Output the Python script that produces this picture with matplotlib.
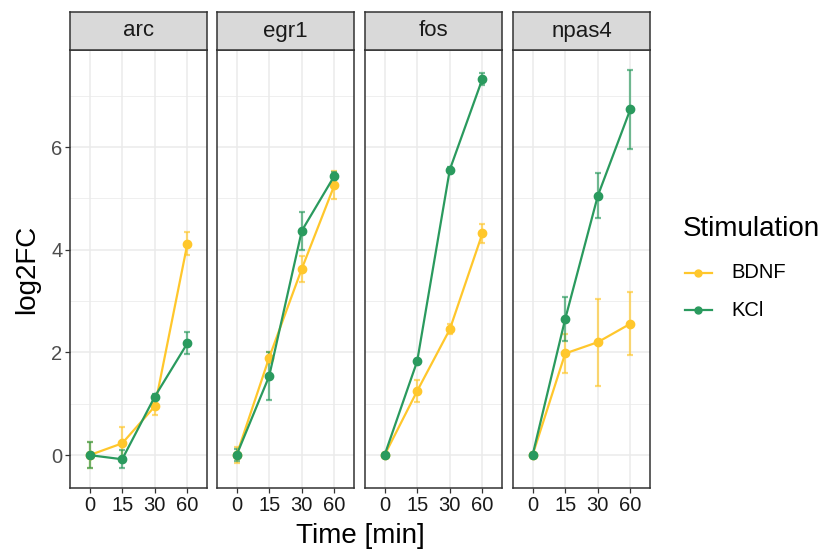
import matplotlib
matplotlib.use("Agg")
import matplotlib.pyplot as plt
from matplotlib.lines import Line2D
import numpy as np

plt.rcParams['font.family'] = ['Liberation Sans', 'DejaVu Sans']

genes = ["arc", "egr1", "fos", "npas4"]
time_labels = ["0", "15", "30", "60"]
stimulations = ["BDNF", "KCl"]
colors = {"BDNF": "#FFC72C", "KCl": "#2A9A5E"}

bdnf_mean = {
    "arc":   [0.0, 0.23, 0.95, 4.12],
    "egr1":  [0.0, 1.90, 3.63, 5.26],
    "fos":   [0.0, 1.25, 2.45, 4.32],
    "npas4": [0.0, 1.98, 2.20, 2.56],
}
bdnf_err = {
    "arc":   [0.26, 0.32, 0.17, 0.23],
    "egr1":  [0.15, 0.10, 0.25, 0.27],
    "fos":   [0.03, 0.21, 0.10, 0.18],
    "npas4": [0.05, 0.38, 0.85, 0.61],
}
kcl_mean = {
    "arc":   [0.0, -0.08, 1.14, 2.18],
    "egr1":  [0.0, 1.54, 4.37, 5.44],
    "fos":   [0.0, 1.83, 5.56, 7.33],
    "npas4": [0.0, 2.65, 5.05, 6.74],
}
kcl_err = {
    "arc":   [0.26, 0.18, 0.05, 0.22],
    "egr1":  [0.12, 0.47, 0.37, 0.08],
    "fos":   [0.03, 0.05, 0.05, 0.12],
    "npas4": [0.04, 0.42, 0.44, 0.77],
}
means = {"BDNF": bdnf_mean, "KCl": kcl_mean}
errs = {"BDNF": bdnf_err, "KCl": kcl_err}

W, H = 828, 550
fig = plt.figure(figsize=(W / 100, H / 100), dpi=100)

panel_lefts = [70, 217, 365, 513]
panel_w = 137
panel_top, panel_bot = 50, 488
strip_top = 12
border = "#333333"

x = np.arange(1, 5)
for i, g in enumerate(genes):
    L = panel_lefts[i]
    ax = fig.add_axes([L / W, 1 - panel_bot / H, panel_w / W, (panel_bot - panel_top) / H])
    ax.set_xlim(0.4, 4.6)
    ax.set_ylim(-0.64, 7.89)
    ax.set_yticks([0, 2, 4, 6])
    ax.set_yticks([1, 3, 5, 7], minor=True)
    ax.set_xticks(x)
    ax.set_xticklabels(time_labels, fontsize=14.5, color="#1a1a1a")
    ax.grid(True, which="major", color="#EBEBEB", lw=1.1, zorder=0)
    ax.grid(True, which="minor", axis="y", color="#EBEBEB", lw=0.55, zorder=0)
    ax.set_axisbelow(True)
    ax.tick_params(axis="both", which="major", length=3.5, width=0.9, color=border, pad=2)
    ax.tick_params(axis="y", which="minor", length=0)
    if i == 0:
        ax.set_yticklabels(["0", "2", "4", "6"], fontsize=14.5, color="#4D4D4D")
    else:
        ax.tick_params(axis="y", which="major", labelleft=False, length=0)
    for s in ax.spines.values():
        s.set_color(border)
        s.set_linewidth(1.1)
    for st in stimulations:
        m = means[st][g]
        e = errs[st][g]
        ax.errorbar(x, m, yerr=e, fmt="none", ecolor=colors[st], alpha=0.65,
                    elinewidth=1.6, capsize=2, capthick=1.6, zorder=2)
        ax.plot(x, m, color=colors[st], lw=1.6, marker="o", ms=6, zorder=3)
    # strip
    sax = fig.add_axes([L / W, 1 - panel_top / H, panel_w / W, (panel_top - strip_top) / H])
    sax.set_facecolor("#D9D9D9")
    sax.set_xticks([])
    sax.set_yticks([])
    for s in sax.spines.values():
        s.set_color(border)
        s.set_linewidth(1.1)
    sax.text(0.5, 0.5, g, ha="center", va="center", fontsize=16, color="#1a1a1a",
             transform=sax.transAxes)

fig.text(360 / W, 1 - 536 / H, "Time [min]", ha="center", va="center", fontsize=20)
fig.text(27 / W, 1 - 269 / H, "log2FC", ha="center", va="center", fontsize=20, rotation=90)

# legend
fig.text(683 / W, 1 - 229 / H, "Stimulation", ha="left", va="center", fontsize=20)
for st, yy in zip(stimulations, [273, 310]):
    fig.add_artist(Line2D([685 / W, 712 / W], [1 - yy / H, 1 - yy / H], color=colors[st], lw=1.6,
                          transform=fig.transFigure))
    fig.add_artist(Line2D([698.5 / W], [1 - yy / H], color=colors[st], marker="o", ms=5,
                          transform=fig.transFigure))
    fig.text(731 / W, 1 - yy / H, st, ha="left", va="center", fontsize=14.5)

fig.savefig("out.png", dpi=100)
